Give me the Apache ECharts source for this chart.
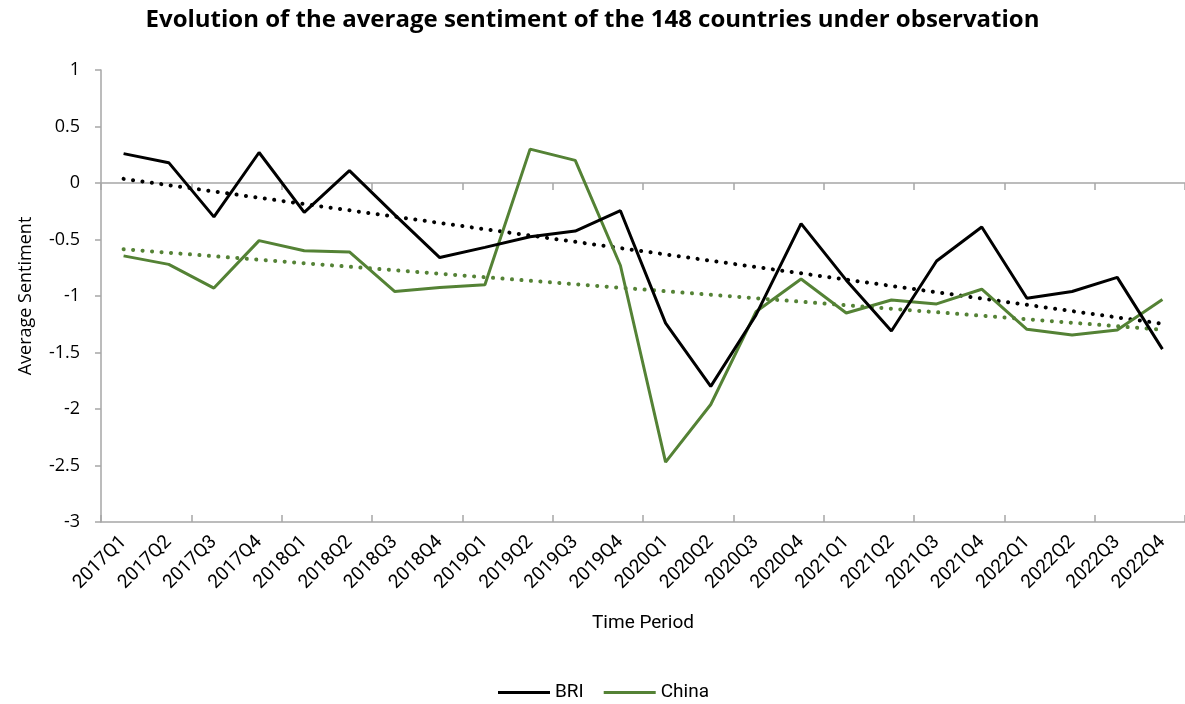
<!DOCTYPE html>
<html>
<head>
<meta charset="utf-8">
<script src="https://cdn.jsdelivr.net/npm/echarts@6/dist/echarts.min.js"></script>
<style>
html,body{margin:0;padding:0;background:#fff;}
#chart{width:1185px;height:704px;}
</style>
</head>
<body>
<div id="chart"></div>
<script>
const categories = ['2017Q1','2017Q2','2017Q3','2017Q4','2018Q1','2018Q2','2018Q3','2018Q4',
  '2019Q1','2019Q2','2019Q3','2019Q4','2020Q1','2020Q2','2020Q3','2020Q4',
  '2021Q1','2021Q2','2021Q3','2021Q4','2022Q1','2022Q2','2022Q3','2022Q4'];
const briValues = [0.26,0.18,-0.30,0.27,-0.26,0.11,-0.28,-0.66,
  -0.57,-0.475,-0.425,-0.245,-1.24,-1.80,-1.17,-0.36,
  -0.86,-1.31,-0.69,-0.39,-1.02,-0.96,-0.835,-1.47];
const chinaValues = [-0.645,-0.72,-0.93,-0.51,-0.60,-0.61,-0.96,-0.925,
  -0.90,0.30,0.20,-0.73,-2.47,-1.96,-1.14,-0.85,
  -1.15,-1.035,-1.07,-0.94,-1.295,-1.345,-1.30,-1.03];
const yTicks = { min: -3, max: 1, interval: 0.5 };

// Linear (least-squares) trendline of a series, as Excel draws it
function linearTrend(vals) {
  const n = vals.length;
  let sx = 0, sy = 0, sxy = 0, sxx = 0;
  vals.forEach((v, i) => { sx += i; sy += v; sxy += i * v; sxx += i * i; });
  const b = (n * sxy - sx * sy) / (n * sxx - sx * sx);
  const a = (sy - b * sx) / n;
  return vals.map((v, i) => a + b * i);
}

const GREEN = '#548235';
const AXIS = '#a6a6a6';
const chart = echarts.init(document.getElementById('chart'));

const baseCat = {
  type: 'category',
  data: categories,
  boundaryGap: true,
  gridIndex: 0
};

chart.setOption({
  animation: false,
  backgroundColor: '#fff',
  title: {
    text: 'Evolution of the average sentiment of the 148 countries under observation',
    left: 'center',
    top: 3,
    textStyle: { fontFamily: 'Open Sans', fontWeight: 'bold', fontSize: 24, color: '#000' }
  },
  grid: { left: 101, top: 70, width: 1094, height: 452 },
  legend: {
    data: ['BRI', 'China'],
    top: 678,
    left: 493,
    icon: 'rect',
    itemWidth: 52,
    itemHeight: 3,
    itemGap: 20,
    textStyle: { fontFamily: 'Roboto', fontSize: 19, color: '#000', padding: [0, 0, 0, 0] }
  },
  xAxis: [
    Object.assign({}, baseCat, {
      position: 'bottom',
      axisLine: { show: true, onZero: true, lineStyle: { color: AXIS, width: 1.5 } },
      axisTick: { show: true, inside: false, length: 7, lineStyle: { color: AXIS, width: 1.5 } },
      axisLabel: { show: false },
      splitLine: { show: false }
    }),
    Object.assign({}, baseCat, {
      position: 'bottom',
      axisLine: { show: true, onZero: true, lineStyle: { color: AXIS, width: 1.5 } },
      axisTick: { show: true, inside: true, length: 7, lineStyle: { color: AXIS, width: 1.5 } },
      axisLabel: { show: false },
      splitLine: { show: false }
    }),
    Object.assign({}, baseCat, {
      position: 'bottom',
      axisLine: { show: false, onZero: false },
      axisTick: { show: false },
      axisLabel: { show: true, interval: 0, rotate: 45, margin: 17,
        fontFamily: 'Roboto', fontSize: 19, color: '#000' },
      splitLine: { show: false },
      name: 'Time Period',
      nameLocation: 'middle',
      nameGap: 92,
      nameTextStyle: { fontFamily: 'Roboto', fontSize: 19, color: '#000' }
    })
  ],
  yAxis: {
    type: 'value',
    min: yTicks.min,
    max: yTicks.max,
    interval: yTicks.interval,
    axisLine: { show: true, lineStyle: { color: AXIS, width: 1.5 } },
    axisTick: { show: true, length: 6, lineStyle: { color: AXIS, width: 1.5 } },
    axisLabel: { margin: 21, fontFamily: 'Open Sans', fontSize: 18, color: '#000' },
    splitLine: { show: false },
    name: 'Average Sentiment',
    nameLocation: 'middle',
    nameGap: 66,
    nameTextStyle: { fontFamily: 'Open Sans', fontSize: 18, color: '#000' }
  },
  series: [
    {
      name: 'BRI', type: 'line', xAxisIndex: 0, data: briValues,
      symbol: 'none', lineStyle: { color: '#000', width: 3 }, itemStyle: { color: '#000' },
      z: 4
    },
    {
      name: 'China', type: 'line', xAxisIndex: 0, data: chinaValues,
      symbol: 'none', lineStyle: { color: GREEN, width: 3 }, itemStyle: { color: GREEN },
      z: 3
    },
    {
      name: 'BRI trend', type: 'line', xAxisIndex: 0, data: linearTrend(briValues),
      symbol: 'none', silent: true,
      lineStyle: { color: '#000', width: 4, type: [0.1, 9.4], cap: 'round' },
      z: 2
    },
    {
      name: 'China trend', type: 'line', xAxisIndex: 0, data: linearTrend(chinaValues),
      symbol: 'none', silent: true,
      lineStyle: { color: GREEN, width: 4, type: [0.1, 9.4], cap: 'round' },
      z: 2
    }
  ]
});
</script>
</body>
</html>
